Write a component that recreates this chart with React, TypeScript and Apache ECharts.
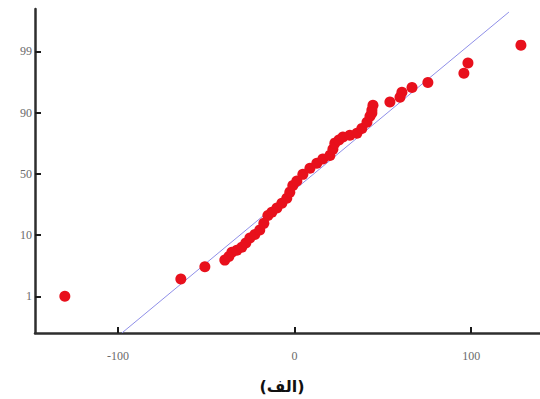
import React, { useEffect, useRef } from "react";
import * as echarts from "echarts";

// Normal probability plot: x = data value, y = normal quantile (z)
const xTicks = [-100, 0, 100];
const yTickZ = [-2, -1, 0, 1, 2];
const yTickLabels = ["1", "10", "50", "90", "99"];

const sampleX = [
  -130.1, -64.4, -50.8, -39.5, -37.2, -35.5, -32.7, -29.9, -27.6, -25.3,
  -22.5, -19.7, -17.4, -15.1, -12.9, -10.0, -7.2, -4.4, -2.7, -1.0,
  1.3, 4.7, 8.7, 12.6, 16.0, 20.0, 21.7, 22.8, 25.1, 27.4,
  31.3, 35.3, 38.1, 41.0, 42.7, 43.8, 44.4, 43.8, 54.0, 59.7,
  60.8, 66.5, 75.5, 95.9, 98.2, 128.2,
];
const sampleZ = [
  -2.0, -1.72, -1.52, -1.41, -1.35, -1.28, -1.25, -1.2, -1.13, -1.05,
  -0.99, -0.92, -0.81, -0.68, -0.63, -0.56, -0.48, -0.4, -0.3, -0.19,
  -0.12, -0.01, 0.09, 0.17, 0.24, 0.3, 0.4, 0.5, 0.55, 0.6,
  0.63, 0.66, 0.74, 0.84, 0.94, 1.04, 1.12, 0.99, 1.17, 1.25,
  1.33, 1.41, 1.49, 1.64, 1.81, 2.1,
];

const refLineX = [-97.8, 121.4];
const refLineZ = [-2.6, 2.64];

const caption = "(الف)";

export default function App() {
  const ref = useRef<HTMLDivElement>(null);
  useEffect(() => {
    if (!ref.current) return;
    const chart = echarts.init(ref.current, null, { renderer: "svg" });
    const labelStyle = {
      color: "#6a6a6a",
      fontFamily: "Liberation Serif",
      fontSize: 12,
    };
    chart.setOption({
      animation: false,
      backgroundColor: "#ffffff",
      grid: { left: 35, right: 0, top: 9, bottom: 66 },
      xAxis: {
        type: "value",
        min: -147,
        max: 139,
        splitLine: { show: false },
        axisLine: { show: true, onZero: false, lineStyle: { color: "#2e2e2e", width: 2.5 } },
        axisTick: {
          show: true,
          inside: true,
          length: 6,
          customValues: xTicks,
          lineStyle: { color: "#1a1a1a", width: 2 },
        },
        axisLabel: { ...labelStyle, margin: 17, customValues: xTicks },
      },
      yAxis: {
        type: "value",
        min: -2.6,
        max: 2.69,
        splitLine: { show: false },
        axisLine: { show: true, onZero: false, lineStyle: { color: "#2e2e2e", width: 2.5 } },
        axisTick: {
          show: true,
          inside: true,
          length: 6,
          customValues: yTickZ,
          lineStyle: { color: "#1a1a1a", width: 2 },
        },
        axisLabel: {
          ...labelStyle,
          margin: 3,
          customValues: yTickZ,
          formatter: (v: number) => {
            const i = yTickZ.findIndex((t) => Math.abs(t - v) < 1e-6);
            return i >= 0 ? yTickLabels[i] : "";
          },
        },
      },
      series: [
        {
          type: "line",
          data: refLineX.map((x, i) => [x, refLineZ[i]]),
          symbol: "none",
          lineStyle: { color: "#8f8fe8", width: 1 },
          z: 1,
        },
        {
          type: "scatter",
          data: sampleX.map((x, i) => [x, sampleZ[i]]),
          symbol: "circle",
          symbolSize: 11,
          itemStyle: { color: "#e8101c", opacity: 1 },
          z: 2,
        },
      ],
      graphic: [
        {
          type: "text",
          x: 282,
          y: 386,
          style: {
            text: caption,
            font: "bold 16px 'DejaVu Sans'",
            fill: "#111",
            textAlign: "center",
            textVerticalAlign: "middle",
          },
        },
      ],
    });
    return () => chart.dispose();
  }, []);
  return (
    <div
      ref={ref}
      style={{ position: "fixed", left: 0, top: 0, width: 540, height: 399 }}
    />
  );
}
